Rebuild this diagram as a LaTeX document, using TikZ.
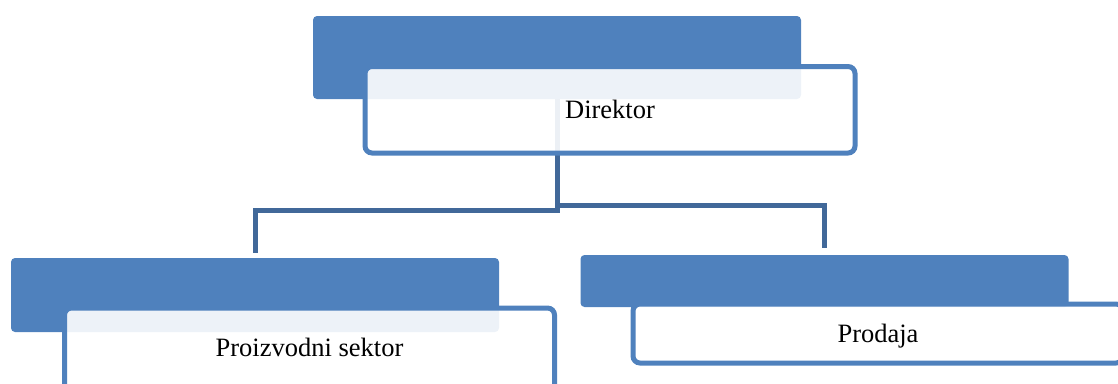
\documentclass[tikz,border=0pt]{standalone}
\usepackage{fontspec}
\setmainfont{Liberation Serif}
\usetikzlibrary{backgrounds}
\definecolor{accent}{RGB}{79,129,189}
\definecolor{linkblue}{RGB}{65,104,153}

\begin{document}
\begin{tikzpicture}[x=1pt, y=-1pt,
    head/.style={fill=accent, rounded corners=4pt, inner sep=0pt, minimum width=488pt},
    card/.style={draw=accent, line width=5pt, fill=white, fill opacity=0.9, text opacity=1,
      rounded corners=7pt, inner sep=0pt, minimum width=490pt, text height=18pt, text depth=0pt,
      font=\fontsize{26.5}{30}\selectfont},
    link/.style={draw=linkblue, line width=5pt}]
  \useasboundingbox (0,0) rectangle (1118,383);
  \node[head, minimum height=83pt] (dirhead) at (557,57.5) {};
  \node[card, minimum height=86.5pt] (dir) at (610,109.75) {Direktor};
  \node[head, minimum height=74pt] (prodhead) at (255,295) {};
  \node[card, minimum height=90pt, text depth=12pt] (prod) at (309.5,353) {Proizvodni sektor};
  \node[head, minimum height=52pt] (salehead) at (824.5,281) {};
  \node[card, minimum height=59pt] (sale) at (878,333.5) {Prodaja};
  \begin{pgfonlayer}{background}
    \draw[link] (dirhead.south) -- ++(0,111) -| ([yshift=5pt]prodhead.north);
    \draw[link] (dirhead.south) -- ++(0,106.7) -| ([yshift=7pt]salehead.north);
  \end{pgfonlayer}
\end{tikzpicture}
\end{document}
